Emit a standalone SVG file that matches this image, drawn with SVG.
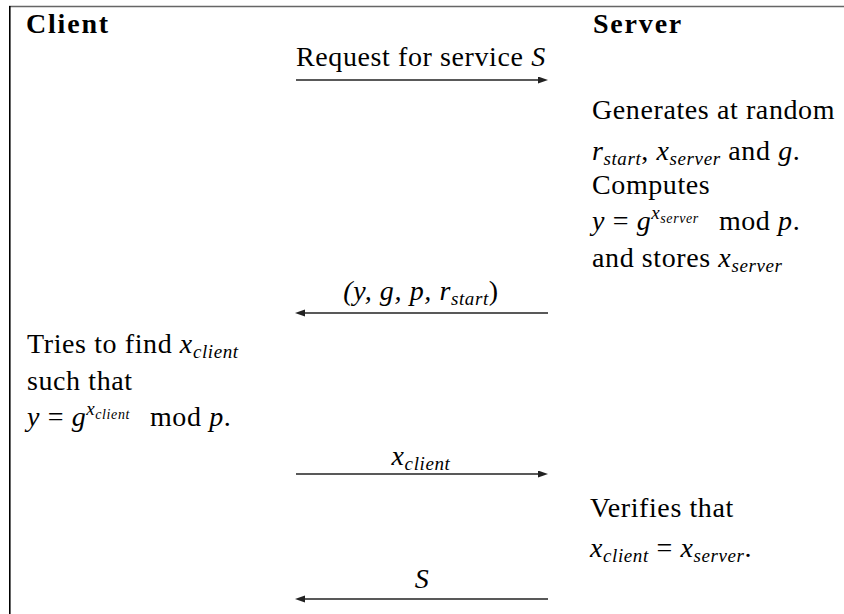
<svg xmlns="http://www.w3.org/2000/svg" width="844" height="614" viewBox="0 0 844 614">
<style>
.t{font-size:28px;letter-spacing:0.6px;fill:#000}
.b{font-weight:bold;font-size:28px;letter-spacing:1.8px;fill:#000}
.i{font-style:italic}
.s{font-size:19px}
.ss{font-size:14px}
.msg{stroke:#222;stroke-width:1.3;fill:none}
</style>
<defs>
<marker id="ah" markerUnits="userSpaceOnUse" markerWidth="10" markerHeight="8" refX="6" refY="3.5" orient="auto">
<path d="M0,0 L10,3.5 L0,7 Z" fill="#222"/>
</marker>
</defs>
<rect width="844" height="614" fill="#fff"/>
<g id="frame">
<line x1="9" y1="6.5" x2="844" y2="6.5" stroke="#666" stroke-width="1.6"/>
<line x1="9.8" y1="6" x2="9.8" y2="614" stroke="#000" stroke-width="1.6"/>
</g>
<g id="client-header"><text class="b" font-family="Times New Roman" x="26" y="33">Client</text></g>
<g id="server-header"><text class="b" font-family="Times New Roman" x="593" y="33">Server</text></g>
<g id="server-generates">
<text class="t" font-family="Times New Roman" x="592" y="119">Generates at random</text>
<text class="t" font-family="Times New Roman" x="592" y="160"><tspan class="i">r</tspan><tspan class="i s" dy="5">start</tspan><tspan dy="-5">, </tspan><tspan class="i">x</tspan><tspan class="i s" dy="5">server</tspan><tspan dy="-5"> and </tspan><tspan class="i">g</tspan>.</text>
<text class="t" font-family="Times New Roman" x="592" y="194">Computes</text>
<text class="t" font-family="Times New Roman" x="592" y="230"><tspan class="i">y</tspan> = <tspan class="i">g</tspan><tspan class="i s" dy="-11">x</tspan><tspan class="i ss" dy="4">server</tspan><tspan dx="20" dy="7">mod </tspan><tspan class="i">p</tspan>.</text>
<text class="t" font-family="Times New Roman" x="592" y="267">and stores <tspan class="i">x</tspan><tspan class="i s" dy="5">server</tspan></text>
</g>
<g id="client-tries">
<text class="t" font-family="Times New Roman" x="27" y="353">Tries to find <tspan class="i">x</tspan><tspan class="i s" dy="5">client</tspan></text>
<text class="t" font-family="Times New Roman" x="27" y="390">such that</text>
<text class="t" font-family="Times New Roman" x="27" y="426"><tspan class="i">y</tspan> = <tspan class="i">g</tspan><tspan class="i s" dy="-11">x</tspan><tspan class="i ss" dy="4">client</tspan><tspan dx="20" dy="7">mod </tspan><tspan class="i">p</tspan>.</text>
</g>
<g id="server-verifies">
<text class="t" font-family="Times New Roman" x="590" y="517">Verifies that</text>
<text class="t" font-family="Times New Roman" x="590" y="557"><tspan class="i">x</tspan><tspan class="i s" dy="5">client</tspan><tspan dy="-5"> = </tspan><tspan class="i">x</tspan><tspan class="i s" dy="5">server</tspan><tspan dy="-5">.</tspan></text>
</g>
<g id="connectors">
<g id="msg-request">
<line class="msg" marker-end="url(#ah)" x1="296" y1="80" x2="544" y2="80"/>
<text class="t" font-family="Times New Roman" x="296" y="66">Request for service <tspan class="i">S</tspan></text>
</g>
<g id="msg-params">
<line class="msg" marker-end="url(#ah)" x1="548" y1="313" x2="299" y2="313"/>
<text class="t" font-family="Times New Roman" x="421" y="300" text-anchor="middle"><tspan class="i">(y, g, p, r</tspan><tspan class="i s" dy="5">start</tspan><tspan dy="-5">)</tspan></text>
</g>
<g id="msg-xclient">
<line class="msg" marker-end="url(#ah)" x1="296" y1="474" x2="544" y2="474"/>
<text class="t" font-family="Times New Roman" x="421" y="465" text-anchor="middle"><tspan class="i">x</tspan><tspan class="i s" dy="5">client</tspan></text>
</g>
<g id="msg-service">
<line class="msg" marker-end="url(#ah)" x1="548" y1="599" x2="299" y2="599"/>
<text class="t i" font-family="Times New Roman" x="422" y="588" text-anchor="middle">S</text>
</g>
</g>
</svg>
